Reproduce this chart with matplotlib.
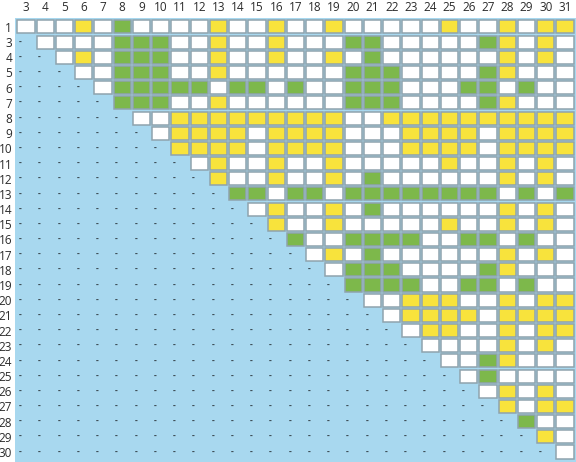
import matplotlib
matplotlib.use("Agg")
import matplotlib.pyplot as plt
from matplotlib.patches import Rectangle

col_labels = list(range(3, 32))
row_labels = [1] + list(range(3, 31))

# one string per row, starting at the diagonal cell
# W = white, Y = yellow, G = green
row_cells = [
    "WWWYWGWWWWYWWYWWYWWWWWYWWYWYY",  # 1
    "WWWWGGGWWYWWYWWWGGWWWWWGYWYW",   # 3
    "WYWGGGWWYWWYWWYWGWWWWWWYWYW",    # 4
    "WWGGGWWYWWWWWWGGGWWWWGYWWW",     # 5
    "WGGGGGWGGWGWWGGGWWWGGWGWW",      # 6
    "GGGWWYWWWWWWGGGWWWWGYWWW",       # 7
    "WWYYYYYYYYYWWYYYYYYYYYY",        # 8
    "WYYYYWYYYYWWWYYYYWYYYY",         # 9
    "YYYYWYYYYWWWYYYYWYYYY",          # 10
    "WYWWYWWYWWWWWYWWYWYW",           # 11
    "YWWYWWYWGWWWWWWYWYW",            # 12
    "GGWGGWGGGGGGGGWGWG",             # 13
    "WYWWYWGWWWWWWYWYW",              # 14
    "YWWYWWWWWYWWYWYW",               # 15
    "GWWGGGGWWGGWGWW",                # 16
    "WYWGWWWWWWYWYW",                 # 17
    "WGGGWWWWGYWWW",                  # 18
    "GGGGWWGGWGWW",                   # 19
    "WWYYYWWYWYY",                    # 20
    "WYYYYWYYYY",                     # 21
    "WYYWWYWYY",                      # 22
    "WWWWYWYW",                       # 23
    "WWGYWWW",                        # 24
    "WGWWWW",                         # 25
    "WYWYW",                          # 26
    "YWYY",                           # 27
    "GWW",                            # 28
    "YW",                             # 29
    "W",                              # 30
]

colors = {"W": "#ffffff", "Y": "#f8e33c", "G": "#7db84b"}
blue = "#a8d8ef"
border = "#8fa3ad"
text_col = "#2b2b2b"

plt.rcParams["font.family"] = ["Open Sans", "DejaVu Sans"]

fig = plt.figure(figsize=(5.76, 4.62), dpi=100)
ax = fig.add_axes([15 / 576, 0, 561 / 576, 444 / 462])
ax.set_facecolor(blue)

n_cols = len(col_labels)
n_rows = len(row_labels)

for i, cells in enumerate(row_cells):
    for k, c in enumerate(cells):
        j = i + k
        ax.add_patch(Rectangle((j - 0.45, i - 0.43), 0.9, 0.86,
                               facecolor=colors[c], edgecolor=border, lw=1.1))
    # dashes in the empty lower part
    for j in range(i):
        ax.text(j - 0.3, i, "-", fontsize=6, color="#3a4a52",
                fontweight="bold", ha="center", va="center")

ax.set_xlim(-0.57, n_cols - 0.43)
ax.set_ylim(n_rows - 0.34, -0.59)

ax.set_xticks(range(n_cols))
ax.set_xticklabels([str(c) for c in col_labels])
ax.set_yticks(range(n_rows))
ax.set_yticklabels([str(r) for r in row_labels])
ax.xaxis.tick_top()
ax.tick_params(axis="x", length=0, pad=3, labelsize=8.5, colors=text_col)
ax.tick_params(axis="y", length=0, pad=2, labelsize=8.5, colors=text_col)
for sp in ax.spines.values():
    sp.set_visible(False)

fig.savefig("out.png", dpi=100)
